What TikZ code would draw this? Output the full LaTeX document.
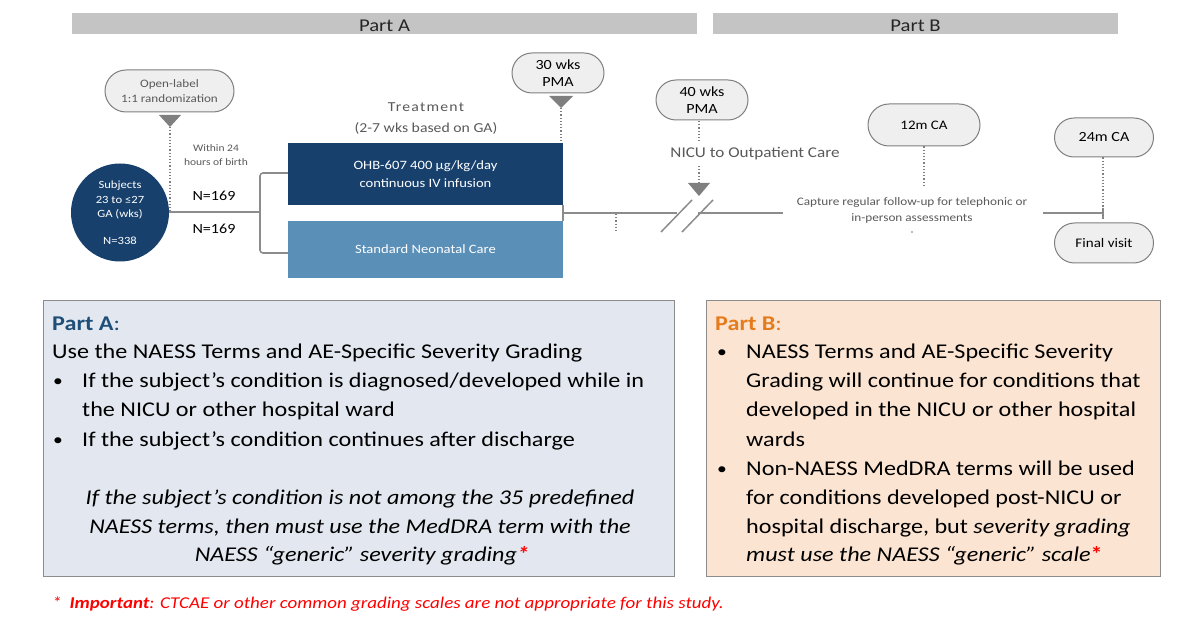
\documentclass[tikz,border=0pt]{standalone}
\usepackage{fontspec}
\setmainfont{Carlito}[FakeStretch=1.15]
\usetikzlibrary{shapes.misc}
\definecolor{dblue}{HTML}{17406D}
\definecolor{mblue}{HTML}{5A8FB8}
\definecolor{barg}{HTML}{C4C4C4}
\definecolor{lineg}{HTML}{8C8C8C}
\definecolor{txtg}{HTML}{595959}
\definecolor{callf}{HTML}{EFEFEF}
\definecolor{callb}{HTML}{7F7F7F}
\definecolor{boxa}{HTML}{E3E8F0}
\definecolor{boxb}{HTML}{FBE4D1}
\definecolor{titlea}{HTML}{1F4E79}
\definecolor{titleb}{HTML}{E47C1E}
\definecolor{impred}{HTML}{FF0000}
\tikzset{
  bar/.style={fill=barg, draw=none, inner sep=0pt, minimum height=21pt},
  bartext/.style={inner sep=0pt, text=black!85, font=\fontsize{18}{20}\selectfont},
  callout/.style={rounded rectangle, draw=callb, line width=1pt, fill=callf, inner sep=0pt, align=center, font=\fontsize{14}{17}\selectfont},
  tri/.style={fill=callb, draw=none},
  dotl/.style={draw=callb, line width=1.2pt, dotted},
  tl/.style={draw=lineg, line width=2pt},
  armbox/.style={draw=none, inner sep=0pt, text=white, align=center, font=\fontsize{12.7}{18}\selectfont},
  gtext/.style={text=txtg, align=center, inner sep=0pt},
  infobox/.style={draw=lineg, line width=1pt, inner sep=0pt},
  bigt/.style={inner sep=0pt, anchor=base west, font=\fontsize{21}{29}\selectfont},
  bul/.style={inner sep=0pt, anchor=base west, font=\fontsize{17}{29}\selectfont},
}
\begin{document}
\begin{tikzpicture}[x=1pt,y=-1pt]
\useasboundingbox (0,0) rectangle (1200,628);
% top bars
\node[bar, minimum width=625pt] (barA) at (384.5,23.5) {};
\node[bartext] (barAt) at (384.5,26) {Part A};
\node[bar, minimum width=405pt] (barB) at (915.5,23.5) {};
\node[bartext] (barBt) at (915.5,26) {Part B};
% subjects circle
\node[circle, fill=dblue, minimum size=98pt, inner sep=0pt, text=white, align=center, font=\fontsize{11}{14.5}\selectfont] (subj) at (120,212.5) {Subjects\\23 to ≤27\\GA (wks)\\[12pt]N=338};
% open label callout
\node[callout, minimum width=129pt, minimum height=42pt, text=txtg, font=\fontsize{11.4}{15}\selectfont] (ol) at (169.5,91) {Open-label\\1:1 randomization};
\fill[tri] (159,115) -- (181,115) -- (170,127) -- cycle;
\coordinate (br) at (260,212);
\draw[dotl] (170,127) -- (170,0 |- br);
\node[gtext, font=\fontsize{10}{13.5}\selectfont] (within) at (216,155) {Within 24\\hours of birth};
\node[inner sep=0pt, font=\fontsize{14}{18}\selectfont] (n1) at (214,196) {N=169};
\node[inner sep=0pt, font=\fontsize{14}{18}\selectfont] (n2) at (214,229) {N=169};
% arms
\node[armbox, fill=dblue, minimum width=275pt, minimum height=62pt] (ohb) at (425.5,174) {OHB-607 400 µg/kg/day\\continuous IV infusion};
\node[armbox, fill=mblue, minimum width=275pt, minimum height=57pt] (std) at (425.5,249.5) {Standard Neonatal Care};
\node[gtext, font=\fontsize{13.7}{21}\selectfont] (treat) at (426,119) {\addfontfeature{LetterSpace=9}Treatment\\(2-7 wks based on GA)};
\draw[tl, line width=1.6pt] (subj.east |- br) -- (br);
\draw[tl, line width=1.6pt, rounded corners=3pt] (ohb.west |- 0,173) -- (260,173) -- (260,253) -- (std.west |- 0,253);
% 30 wks PMA
\node[callout, minimum width=92pt, minimum height=40pt] (pma30) at (558,73) {30 wks\\PMA};
\fill[tri] (549,96) -- (573,96) -- (561,108) -- cycle;
\draw[dotl] (561,108) -- (561,143);
% timeline
\coordinate (t0) at (563,213);
\coordinate (s1) at (677,213);
\coordinate (s2) at (698,213);
\coordinate (t1) at (783,213);
\coordinate (t2) at (1043,213);
\coordinate (t3) at (1103,213);
\draw[tl] (ohb.south east) -- (std.north east);
\draw[tl] (t0) -- (s1);
\draw[tl] (s2) -- (t1);
\draw[tl, line width=1.5pt] (661,232) -- (692,200);
\draw[tl, line width=1.5pt] (682,232) -- (713,200);
\draw[dotl] (616,214) -- (616,233);
% 40 wks
\node[callout, minimum width=92pt, minimum height=40pt] (pma40) at (702,100) {40 wks\\PMA};
\draw[dotl] (699,121) -- (699,141);
\node[gtext, font=\fontsize{14.9}{17}\selectfont] (nicu) at (755,154) {NICU to Outpatient Care};
\draw[dotl] (699,166) -- (699,184);
\fill[tri] (688,183) -- (710,183) -- (699,196) -- cycle;
% follow-up
\node[gtext, font=\fontsize{11.5}{16}\selectfont] (cap) at (912,210) {Capture regular follow-up for telephonic or\\in-person assessments};
\fill[callb] (912,232) circle (0.8pt);
\draw[tl] (t2) -- (t3);
\draw[tl, line width=1.2pt] (1103,208) -- (1103,218);
\node[callout, minimum width=112pt, minimum height=42pt, font=\fontsize{13}{16}\selectfont] (ca12) at (924,125) {12m CA};
\draw[dotl] (ca12.south) -- (924,188);
\node[callout, minimum width=99pt, minimum height=39pt] (ca24) at (1104,137.5) {24m CA};
\node[callout, minimum width=99pt, minimum height=40pt, font=\fontsize{13.1}{16}\selectfont] (final) at (1104,243) {Final visit};
\draw[dotl] (1103,157.5) -- (1103,221);
% Part A box
\node[infobox, fill=boxa, minimum width=631pt, minimum height=275pt] (boxA) at (358.5,438.5) {};
\node[bigt, text=titlea, font=\fontsize{21}{29}\bfseries] (tA) at (52,331) {Part A\mdseries:};
\node[bigt] (a1) at (52,359) {Use the NAESS Terms and AE-Specific Severity Grading};
\node[bul] (ab1) at (53,387) {•};
\node[bigt] (a2) at (82,388) {If the subject’s condition is diagnosed/developed while in};
\node[bigt] (a3) at (82,417) {the NICU or other hospital ward};
\node[bul] (ab2) at (53,445) {•};
\node[bigt] (a4) at (82,446) {If the subject's condition continues after discharge};
\node[bigt, anchor=base, font=\fontsize{21}{29}\itshape] (a5) at (360,504) {If the subject's condition is not among the 35 predefined};
\node[bigt, anchor=base, font=\fontsize{21}{29}\itshape] (a6) at (360,533) {NAESS terms, then must use the MedDRA term with the};
\node[bigt, anchor=base, font=\fontsize{21}{29}\itshape] (a7) at (362,561) {NAESS “generic” severity grading\textcolor{impred}{\bfseries*}};
% Part B box
\node[infobox, fill=boxb, minimum width=454pt, minimum height=275pt] (boxB) at (933,438.5) {};
\node[bigt, text=titleb, font=\fontsize{21}{29}\bfseries] (tB) at (715,331) {Part B\mdseries:};
\node[bul] (bb1) at (717,358) {•};
\node[bigt] (b1) at (746,359) {NAESS Terms and AE-Specific Severity};
\node[bigt] (b2) at (746,388) {Grading will continue for conditions that};
\node[bigt] (b3) at (746,417) {developed in the NICU or other hospital};
\node[bigt] (b4) at (746,446) {wards};
\node[bul] (bb2) at (717,474) {•};
\node[bigt] (b5) at (746,475) {Non-NAESS MedDRA terms will be used};
\node[bigt] (b6) at (746,504) {for conditions developed post-NICU or};
\node[bigt] (b7) at (746,533) {hospital discharge, but \textit{severity grading}};
\node[bigt] (b8) at (746,561) {\textit{must use the NAESS “generic” scale}\textcolor{impred}{\bfseries*}};
% footnote
\node[bigt, text=impred, font=\fontsize{16.5}{20}\itshape] (foot) at (52,608) {*\hspace{8pt}\textbf{Important}: CTCAE or other common grading scales are not appropriate for this study.};
\end{tikzpicture}
\end{document}
